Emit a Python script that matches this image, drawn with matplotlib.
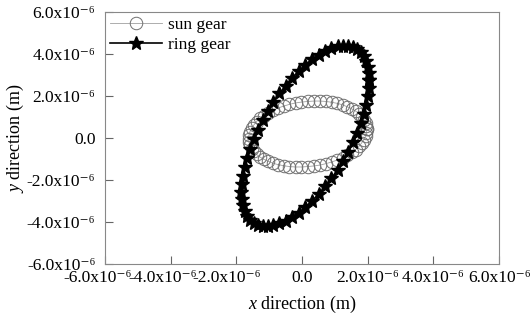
import matplotlib
matplotlib.use("Agg")
import matplotlib.pyplot as plt
import matplotlib.transforms as mtransforms

plt.rcParams['font.family'] = ['Liberation Serif', 'DejaVu Serif']
plt.rcParams['mathtext.fontset'] = 'custom'
plt.rcParams['mathtext.rm'] = 'Liberation Serif'
plt.rcParams['mathtext.it'] = 'Liberation Serif:italic'

# orbit points, in units of 1e-6 m
sun_x = [1.97, 1.96, 1.93, 1.88, 1.81, 1.73, 1.63, 1.51, 1.37, 1.23,
         1.07, 0.90, 0.73, 0.54, 0.36, 0.17, -0.02, -0.20, -0.39, -0.56,
         -0.73, -0.89, -1.03, -1.17, -1.29, -1.39, -1.47, -1.54, -1.59, -1.62,
         -1.63, -1.62, -1.59, -1.54, -1.47, -1.39, -1.29, -1.17, -1.03, -0.89,
         -0.73, -0.56, -0.39, -0.20, -0.02, 0.17, 0.36, 0.54, 0.73, 0.90,
         1.07, 1.23, 1.37, 1.51, 1.63, 1.73, 1.81, 1.88, 1.93, 1.96]
sun_y = [0.41, 0.57, 0.73, 0.88, 1.02, 1.16, 1.28, 1.39, 1.49, 1.58,
         1.65, 1.70, 1.74, 1.76, 1.76, 1.74, 1.71, 1.67, 1.60, 1.52,
         1.43, 1.32, 1.20, 1.07, 0.93, 0.78, 0.62, 0.46, 0.30, 0.14,
         -0.03, -0.19, -0.35, -0.50, -0.64, -0.78, -0.90, -1.01, -1.11, -1.20,
         -1.27, -1.32, -1.36, -1.38, -1.38, -1.36, -1.33, -1.29, -1.22, -1.14,
         -1.05, -0.94, -0.82, -0.69, -0.55, -0.40, -0.24, -0.08, 0.08, 0.24]

ring_x = [2.05, 2.04, 2.01, 1.95, 1.88, 1.79, 1.68, 1.55, 1.40, 1.25,
          1.08, 0.89, 0.70, 0.51, 0.30, 0.10, -0.10, -0.31, -0.50, -0.69,
          -0.88, -1.05, -1.20, -1.35, -1.48, -1.59, -1.68, -1.75, -1.81, -1.84,
          -1.85, -1.84, -1.81, -1.75, -1.68, -1.59, -1.48, -1.35, -1.20, -1.05,
          -0.88, -0.69, -0.50, -0.31, -0.10, 0.10, 0.30, 0.51, 0.70, 0.89,
          1.08, 1.25, 1.40, 1.55, 1.68, 1.79, 1.88, 1.95, 2.01, 2.04]
ring_y = [2.75, 3.09, 3.39, 3.66, 3.90, 4.09, 4.23, 4.33, 4.39, 4.40,
          4.36, 4.27, 4.14, 3.96, 3.75, 3.49, 3.19, 2.86, 2.50, 2.12,
          1.71, 1.29, 0.85, 0.40, -0.05, -0.50, -0.94, -1.37, -1.79, -2.18,
          -2.55, -2.89, -3.19, -3.46, -3.70, -3.89, -4.03, -4.13, -4.19, -4.20,
          -4.16, -4.07, -3.94, -3.76, -3.55, -3.29, -2.99, -2.66, -2.30, -1.92,
          -1.51, -1.09, -0.65, -0.20, 0.25, 0.70, 1.14, 1.57, 1.99, 2.38]

ticks = [-6, -4, -2, 0, 2, 4, 6]
tick_labels = ['-6.0x10⁻⁶', '-4.0x10⁻⁶', '-2.0x10⁻⁶', '0.0',
               '2.0x10⁻⁶', '4.0x10⁻⁶', '6.0x10⁻⁶']

scale = 1e-6
fig = plt.figure(figsize=(5.31, 3.20), dpi=100)
ax = fig.add_axes([0.198, 0.175, 0.742, 0.7875])

ax.plot([v * scale for v in sun_x + sun_x[:1]], [v * scale for v in sun_y + sun_y[:1]],
        '-', color='#a0a0a0', lw=0.6, marker='o', ms=9, mfc='none',
        mec='#707070', mew=0.7, label='sun gear')
ax.plot([v * scale for v in ring_x + ring_x[:1]], [v * scale for v in ring_y + ring_y[:1]],
        '-', color='black', lw=1.2, marker='*', ms=10.5, mfc='black',
        mec='black', label='ring gear')

ax.set_xlim(-6e-6, 6e-6)
ax.set_ylim(-6e-6, 6e-6)
ax.set_xticks([t * scale for t in ticks])
ax.set_yticks([t * scale for t in ticks])
ax.set_xticklabels(tick_labels, fontsize=12.5)
ax.set_yticklabels(tick_labels, fontsize=12.5)
ax.tick_params(direction='in', length=6, width=0.8, color='#666666')
ax.tick_params(axis='x', pad=4)
ax.tick_params(axis='y', pad=7)
for sp in ax.spines.values():
    sp.set_color('#888888')
    sp.set_linewidth(0.8)

# the negative x labels in the original sit a little left of their ticks
shifts = [-8, -8, -10, 0, 0, 0, 0]
for lab, dx in zip(ax.get_xticklabels(), shifts):
    lab.set_transform(lab.get_transform() +
                      mtransforms.ScaledTranslation(dx / 100, 0, fig.dpi_scale_trans))

ax.set_xlabel('$\\mathit{x}$ direction (m)', fontsize=13)
ax.set_ylabel('$\\mathit{y}$ direction (m)', fontsize=13)
ax.xaxis.set_label_coords(0.5, -0.12)
ax.yaxis.set_label_coords(-0.20, 0.5)

ax.legend(loc='upper left', frameon=False, fontsize=12.5, handlelength=3.0,
          borderaxespad=0.1, borderpad=0.2, labelspacing=0.2, handletextpad=0.3)

fig.savefig('out.png', dpi=100)
